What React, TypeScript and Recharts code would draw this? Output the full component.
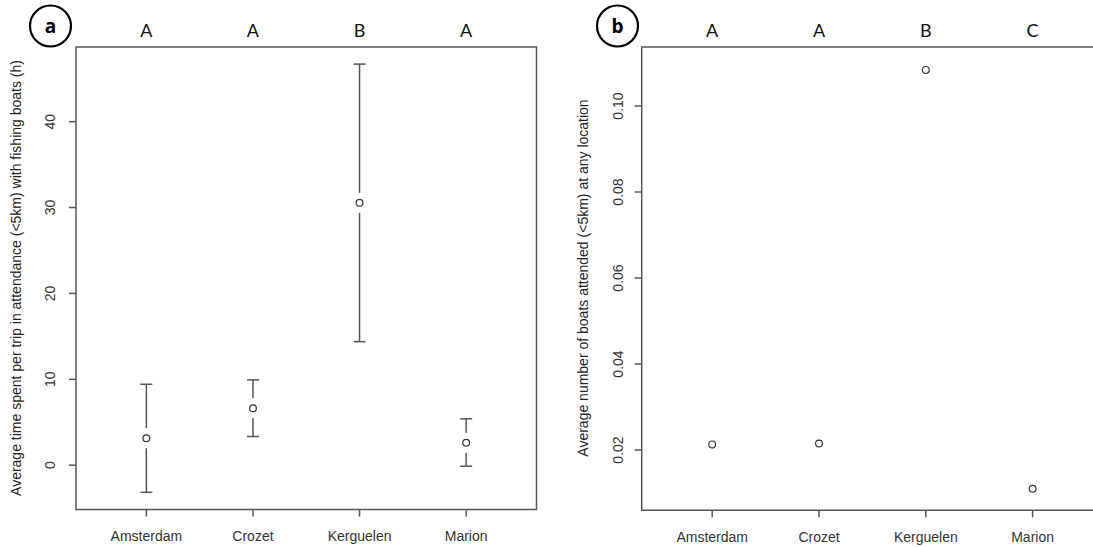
import React from 'react';
import { ComposedChart, Scatter, XAxis, YAxis, ErrorBar, ReferenceArea } from 'recharts';

// categories on the x axis (plotted at 1..4)
const locations = ['Amsterdam', 'Crozet', 'Kerguelen', 'Marion'];
const positions = [1, 2, 3, 4];

// panel a: time in attendance (h), mean with lower / upper limits
const timeMean = [3.14, 6.63, 30.55, 2.6];
const timeLower = [-3.16, 3.34, 14.38, -0.12];
const timeUpper = [9.42, 9.93, 46.7, 5.4];
const timeGroups = ['A', 'A', 'B', 'A'];
const timeTicks = [0, 10, 20, 30, 40];

// panel b: number of boats attended
const boatsMean = [0.0213, 0.0215, 0.1084, 0.011];
const boatsGroups = ['A', 'A', 'B', 'C'];
const boatsTicks = [0.02, 0.04, 0.06, 0.08, 0.1];

const X_DOMAIN: [number, number] = [0.34, 4.66];
const SANS = '"Liberation Sans", Arial, sans-serif';
const AXIS_GREY = '#555';

const timeData = positions.map((x, i) => ({
  x,
  y: timeMean[i],
  err: [timeMean[i] - timeLower[i], timeUpper[i] - timeMean[i]],
}));
const boatsData = positions.map((x, i) => ({ x, y: boatsMean[i] }));

// open circle, with a white gap behind it so the error line breaks around the point
const GapDot = (props: any) => {
  const { cx, cy, gap } = props;
  if (cx == null || cy == null) return <g />;
  return (
    <g>
      {gap ? <rect x={cx - 3} y={cy - 10} width={6} height={20} fill="#fff" /> : null}
      <circle cx={cx} cy={cy} r={3.4} fill="#fff" stroke="#333" strokeWidth={1.2} />
    </g>
  );
};

const VTick = (props: any) => {
  const { x, y, payload, fmt } = props;
  return (
    <text
      x={x}
      y={y}
      transform={`rotate(-90 ${x} ${y})`}
      textAnchor="middle"
      fontSize={14}
      fontFamily={SANS}
      fill="#333"
    >
      {fmt(payload.value)}
    </text>
  );
};

const GroupTick = (props: any) => {
  const { x, y, payload, groups } = props;
  return (
    <text x={x} y={y} textAnchor="middle" fontSize={18} fontFamily='Lato, "Open Sans", sans-serif' fill="#111">
      {groups[payload.value - 1]}
    </text>
  );
};

type PanelProps = {
  data: any[];
  yDomain: [number, number];
  yTicks: number[];
  fmt: (v: number) => string;
  groups: string[];
  withErrors: boolean;
  width: number;
  left: number;
  right: number;
  bottom: number;
  yTickMargin: number;
};

function Panel({ data, yDomain, yTicks, fmt, groups, withErrors, width, left, right, bottom, yTickMargin }: PanelProps) {
  return (
    <ComposedChart width={width} height={547} margin={{ top: 0, right, bottom: 0, left: 0 }}>
      <XAxis
        dataKey="x"
        type="number"
        domain={X_DOMAIN}
        ticks={positions}
        allowDataOverflow
        height={bottom}
        axisLine={false}
        tickLine={{ stroke: AXIS_GREY, strokeWidth: 1.5 }}
        tickSize={7}
        tickMargin={15}
        tickFormatter={(v: number) => locations[v - 1]}
        tick={{ fontSize: 14, fontFamily: SANS, fill: '#333' }}
        interval={0}
      />
      <XAxis
        xAxisId="top"
        dataKey="x"
        type="number"
        orientation="top"
        domain={X_DOMAIN}
        ticks={positions}
        allowDataOverflow
        height={47}
        axisLine={false}
        tickLine={false}
        tickSize={0}
        tickMargin={10}
        interval={0}
        tick={(p: any) => <GroupTick {...p} groups={groups} />}
      />
      <YAxis
        dataKey="y"
        type="number"
        domain={yDomain}
        ticks={yTicks}
        allowDataOverflow
        width={left}
        axisLine={false}
        tickLine={{ stroke: AXIS_GREY, strokeWidth: 1.5 }}
        tickSize={7}
        tickMargin={yTickMargin}
        interval={0}
        tick={(p: any) => <VTick {...p} fmt={fmt} />}
      />
      <Scatter xAxisId="top" data={data} isAnimationActive={false} shape={() => <g />} />
      {withErrors ? (
        <Scatter data={data} isAnimationActive={false} shape={() => <g />}>
          <ErrorBar dataKey="err" direction="y" width={6} stroke={AXIS_GREY} strokeWidth={1.5} isAnimationActive={false} />
        </Scatter>
      ) : null}
      <Scatter data={data} isAnimationActive={false} shape={(p: any) => <GapDot {...p} gap={withErrors} />} />
      <ReferenceArea
        x1={X_DOMAIN[0]}
        x2={X_DOMAIN[1]}
        y1={yDomain[0]}
        y2={yDomain[1]}
        fill="none"
        stroke={AXIS_GREY}
        strokeWidth={1.5}
        ifOverflow="visible"
      />
    </ComposedChart>
  );
}

export default function App() {
  return (
    <div style={{ position: 'absolute', left: 0, top: 0, width: 1093, height: 547, overflow: 'hidden', background: '#fff' }}>
      <div style={{ position: 'absolute', left: 0, top: 0 }}>
        <Panel
          data={timeData}
          yDomain={[-5.16, 48.69]}
          yTicks={timeTicks}
          fmt={(v) => String(v)}
          groups={timeGroups}
          withErrors
          width={560}
          left={76}
          right={23.5}
          bottom={37.5}
          yTickMargin={14}
        />
      </div>
      <div style={{ position: 'absolute', left: 560, top: 0 }}>
        <Panel
          data={boatsData}
          yDomain={[0.00598, 0.11372]}
          yTicks={boatsTicks}
          fmt={(v) => v.toFixed(2)}
          groups={boatsGroups}
          withErrors={false}
          width={560}
          left={81.7}
          right={16.9}
          bottom={36.7}
          yTickMargin={12}
        />
      </div>
      <svg width={1093} height={547} style={{ position: 'absolute', left: 0, top: 0, pointerEvents: 'none' }}>
        <text
          x={21}
          y={278}
          transform="rotate(-90 21 278)"
          textAnchor="middle"
          fontSize={14}
          fontFamily={SANS}
          fill="#222"
        >
          Average time spent per trip in attendance (&lt;5km) with fishing boats (h)
        </text>
        <text
          x={588}
          y={278}
          transform="rotate(-90 588 278)"
          textAnchor="middle"
          fontSize={14}
          fontFamily={SANS}
          fill="#222"
        >
          Average number of boats attended (&lt;5km) at any location
        </text>
        <circle cx={50.5} cy={26} r={20.5} fill="none" stroke="#000" strokeWidth={2.2} />
        <text x={50.5} y={33} textAnchor="middle" fontSize={19} fontWeight="bold" fontFamily='"Open Sans", sans-serif' fill="#000">
          a
        </text>
        <circle cx={617.5} cy={26} r={20.5} fill="none" stroke="#000" strokeWidth={2.2} />
        <text x={617.5} y={33} textAnchor="middle" fontSize={19} fontWeight="bold" fontFamily='"Open Sans", sans-serif' fill="#000">
          b
        </text>
      </svg>
    </div>
  );
}
